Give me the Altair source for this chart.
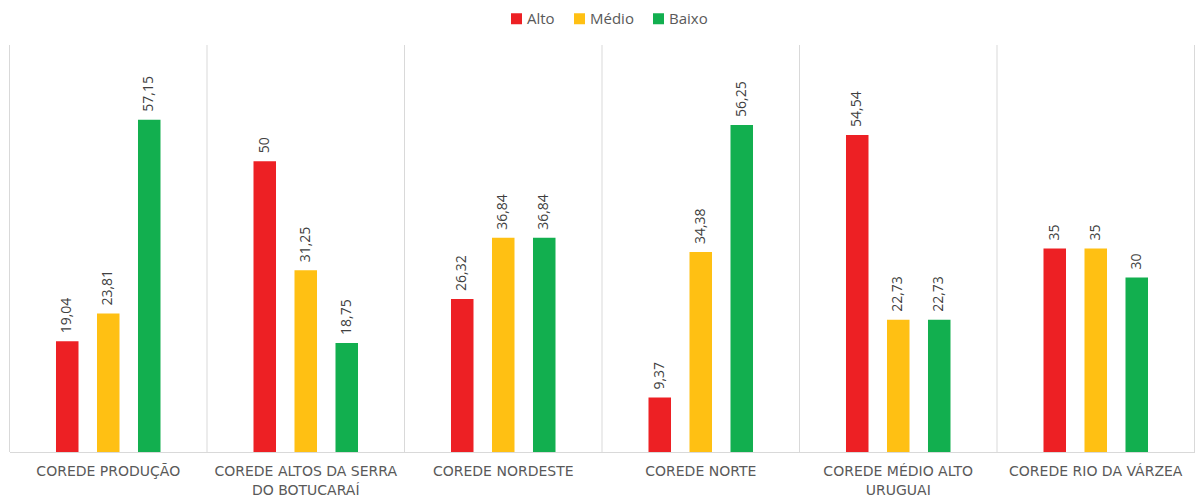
import altair as alt
import pandas as pd

categories = [
    "COREDE PRODUÇÃO",
    "COREDE ALTOS DA SERRA\nDO BOTUCARAÍ",
    "COREDE NORDESTE",
    "COREDE NORTE",
    "COREDE MÉDIO ALTO\nURUGUAI",
    "COREDE RIO DA VÁRZEA",
]
series = ["Alto", "Médio", "Baixo"]
alto = [19.04, 50, 26.32, 9.37, 54.54, 35]
medio = [23.81, 31.25, 36.84, 34.38, 22.73, 35]
baixo = [57.15, 18.75, 36.84, 56.25, 22.73, 30]
colors = ["#ED2024", "#FFC013", "#12AF4F"]

rows = []
for s, vals in zip(series, [alto, medio, baixo]):
    for c, v in zip(categories, vals):
        rows.append({"cat": c, "serie": s, "value": v})
df = pd.DataFrame(rows)
cat_df = pd.DataFrame({"cat": categories})

# empty slots on both sides of each group (gap inside the group)
offset_domain = ["_l"] + series + ["_r"]
offset_scale = alt.Scale(domain=offset_domain, paddingInner=0.451, paddingOuter=0.134)

xscale = alt.Scale(paddingInner=0, paddingOuter=0)
xaxis = alt.Axis(
    title=None, labelAngle=0, labelAlign="center", labelBaseline="top",
    ticks=False, tickSize=0, domainColor="#d9d9d9",
    labelExpr="split(datum.label, '\\n')", labelFont="DejaVu Sans", labelFontSize=14,
    labelColor="#595959", labelPadding=12, labelLineHeight=19, labelLimit=400,
    labelOverlap=False, grid=False,
)

base = alt.Chart(df).transform_calculate(
    label="replace(toString(datum.value), '.', ',')"
)

bars = base.mark_bar().encode(
    x=alt.X("cat:N", sort=categories, scale=xscale, axis=xaxis),
    xOffset=alt.XOffset("serie:N", scale=offset_scale),
    y=alt.Y("value:Q", scale=alt.Scale(domain=[0, 70], nice=False), axis=None),
    color=alt.Color(
        "serie:N", sort=series, scale=alt.Scale(domain=series, range=colors),
        legend=alt.Legend(
            title=None, orient="none", legendX=499.5, legendY=-34, direction="horizontal",
            symbolType="square", symbolSize=121, symbolStrokeWidth=0,
            labelFont="Open Sans", labelFontSize=15, labelColor="#595959",
            columnPadding=17, labelOffset=3, padding=0,
        ),
    ),
)

texts = base.mark_text(
    angle=270, align="left", baseline="middle", dx=8,
    font="Open Sans", fontSize=14, color="#404040",
).encode(
    x=alt.X("cat:N", sort=categories, scale=xscale, axis=xaxis),
    xOffset=alt.XOffset("serie:N", scale=offset_scale),
    y=alt.Y("value:Q"),
    text="label:N",
)

sep = alt.Chart(cat_df).mark_rule(color="#d9d9d9", strokeWidth=1).encode(
    x=alt.X("cat:N", sort=categories, scale=xscale, bandPosition=0)
)
sep_end = alt.Chart(cat_df).transform_filter(
    alt.datum.cat == categories[-1]
).mark_rule(color="#d9d9d9", strokeWidth=1).encode(
    x=alt.X("cat:N", sort=categories, scale=xscale, bandPosition=1)
)

chart = alt.layer(sep, sep_end, bars, texts).properties(
    width=1185, height=407,
    autosize=alt.AutoSizeParams(type="none"),
    padding={"left": 1.5, "top": 37, "right": 0.5, "bottom": 46},
).configure_view(stroke=None)

chart.save("out.html", embed_options={"renderer": "svg", "actions": False})
